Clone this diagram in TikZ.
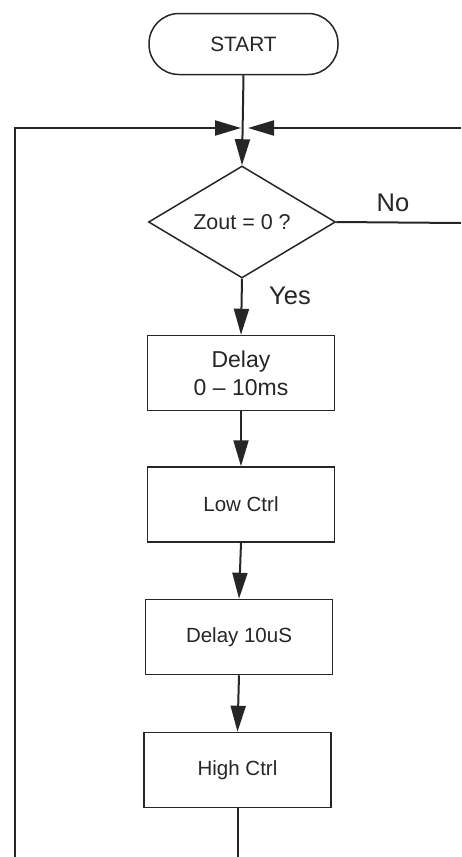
\documentclass[tikz,border=0pt]{standalone}
\usepackage{fontspec}
\setmainfont{Liberation Sans}
\usetikzlibrary{arrows.meta,shapes.geometric}
\definecolor{inkc}{HTML}{262626}
\begin{document}
\begin{tikzpicture}[x=1pt,y=-1pt,
  outline/.style={draw=inkc, line width=1.5pt, text=inkc, inner sep=0pt},
  stepbox/.style={outline, minimum width=187pt, minimum height=75pt,
    font=\fontsize{20.5}{24}\selectfont},
  terminal/.style={outline, minimum width=189pt, minimum height=61pt,
    rounded corners=30pt, font=\fontsize{20.8}{24}\selectfont},
  decision/.style={outline, diamond, aspect=1.67, minimum width=187pt,
    minimum height=112pt, font=\fontsize{21.5}{24}\selectfont},
  flow/.style={draw=inkc, line width=2pt},
  arr/.style={flow, -{Triangle[length=26pt,width=15pt]}},
  lbl/.style={text=inkc, font=\fontsize{25.5}{28}\selectfont}
]
\useasboundingbox[fill=white] (0,0) rectangle (461,857);

% process chain
\node[terminal] (start) at (243.5,44) {START};
\node[decision] (dec) at (242,222) {Zout = 0 ?};
\node[stepbox, align=center, font=\fontsize{23}{28}\selectfont] (d1) at (241,373) {Delay\\0 -- 10ms};
\node[stepbox] (lo) at (241,504.5) {Low Ctrl};
\node[stepbox] (d2) at (239,637) {Delay 10uS};
\node[stepbox] (hi) at (237.5,770) {High Ctrl};

% junction and loop-back points
\coordinate (mL) at (241,128);
\coordinate (mR) at (248,128);
\coordinate (lbot) at (15,857);
\coordinate (rtop) at (461,128);
\coordinate (rno) at (461,223);
\coordinate (hbot) at (237.5,857);

% connectors
\draw[arr] (start.south) -- (dec.north);
\draw[arr] (lbot) |- (mL);
\draw[arr] (rtop) -- (mR);
\draw[flow] (dec.east) -- (rno);
\draw[arr] (dec.south) -- (d1.north);
\draw[arr] (d1.south) -- (lo.north);
\draw[arr] (lo.south) -- (d2.north);
\draw[arr] (d2.south) -- (hi.north);
\draw[flow] (hi.south) -- (hbot);

% branch labels
\node[lbl] (no) at (393,203) {No};
\node[lbl] (yes) at (290,296) {Yes};
\end{tikzpicture}
\end{document}
